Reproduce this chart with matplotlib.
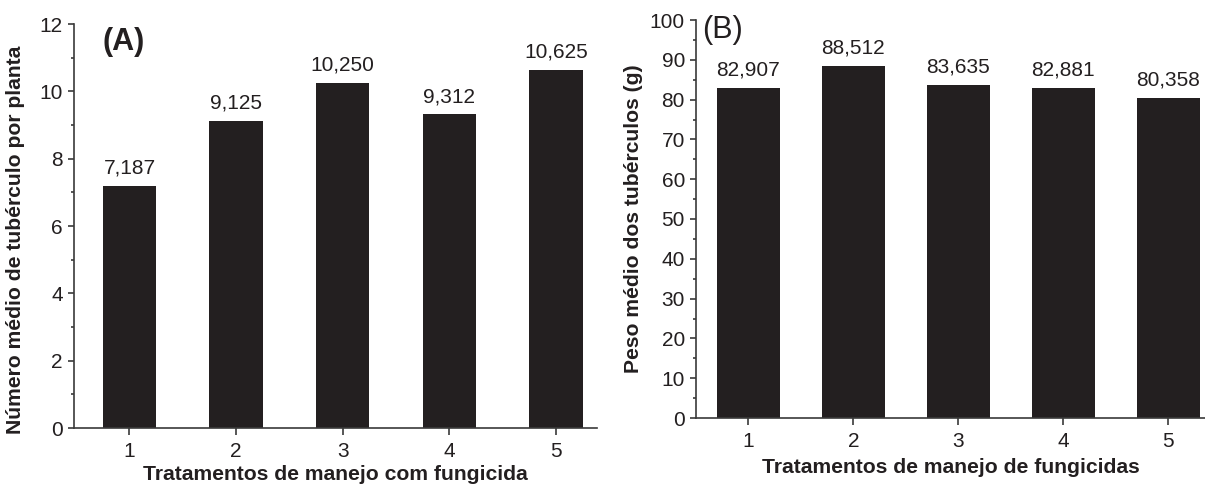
import matplotlib
matplotlib.use("Agg")
from matplotlib import pyplot as plt
from matplotlib.ticker import MultipleLocator

plt.rcParams['font.family'] = ['Liberation Sans', 'DejaVu Sans']

# dados
tratamentos = [1, 2, 3, 4, 5]
num_tuberculos = [7.187, 9.125, 10.250, 9.312, 10.625]
peso_medio = [82.907, 88.512, 83.635, 82.881, 80.358]

bar_color = '#231f20'
axis_color = '#3a3a3a'
text_color = '#231f20'


def fmt(v):
    return f"{v:.3f}".replace('.', ',')


def style_axes(ax):
    for s in ['top', 'right']:
        ax.spines[s].set_visible(False)
    for s in ['left', 'bottom']:
        ax.spines[s].set_color(axis_color)
        ax.spines[s].set_linewidth(1.2)
    ax.tick_params(axis='y', which='major', direction='out', length=4, width=1.2,
                   color=axis_color, labelsize=15, labelcolor=text_color, pad=4)
    ax.tick_params(axis='x', which='major', direction='out', length=5, width=1.2,
                   color=axis_color, labelsize=15, labelcolor=text_color, pad=5)
    ax.tick_params(axis='y', which='minor', direction='out', length=2.5, width=1.2, color=axis_color)
    ax.tick_params(axis='x', which='minor', length=0)


fig = plt.figure(figsize=(12.05, 4.84), dpi=100)

# painel A
ax1 = fig.add_axes([74 / 1205, 1 - 428 / 484, (597 - 74) / 1205, (428 - 24) / 484])
ax1.bar(tratamentos, num_tuberculos, width=0.5, color=bar_color)
ax1.set_xlim(0.48, 5.385)
ax1.set_ylim(0, 12)
ax1.yaxis.set_major_locator(MultipleLocator(2))
ax1.yaxis.set_minor_locator(MultipleLocator(1))
ax1.set_xticks(tratamentos)
style_axes(ax1)
for x, v in zip(tratamentos, num_tuberculos):
    ax1.annotate(fmt(v), (x, v), xytext=(0, 6), textcoords='offset points',
                 ha='center', va='bottom', fontsize=15, color=text_color)
ax1.set_xlabel('Tratamentos de manejo com fungicida', fontsize=15.2, fontweight='bold',
               color=text_color, labelpad=3)
ax1.set_ylabel('Número médio de tubérculo por planta', fontsize=15.2, fontweight='bold',
               color=text_color)
ax1.yaxis.set_label_coords(-0.094, 0.465)
ax1.text(0.055, 0.955, '(A)', transform=ax1.transAxes, fontsize=22, fontweight='bold',
         color=text_color, ha='left', va='center')

# painel B
ax2 = fig.add_axes([696 / 1205, 1 - 418 / 484, (1205 - 696) / 1205, (418 - 20) / 484])
ax2.bar(tratamentos, peso_medio, width=0.6, color=bar_color)
ax2.set_xlim(0.5, 5.35)
ax2.set_ylim(0, 100)
ax2.yaxis.set_major_locator(MultipleLocator(10))
ax2.yaxis.set_minor_locator(MultipleLocator(5))
ax2.set_xticks(tratamentos)
style_axes(ax2)
for x, v in zip(tratamentos, peso_medio):
    ax2.annotate(fmt(v), (x, v), xytext=(0, 6), textcoords='offset points',
                 ha='center', va='bottom', fontsize=15, color=text_color)
ax2.set_xlabel('Tratamentos de manejo de fungicidas', fontsize=15.2, fontweight='bold',
               color=text_color, labelpad=5)
ax2.set_ylabel('Peso médio dos tubérculos (g)', fontsize=15.2, fontweight='bold',
               color=text_color, labelpad=5)
ax2.text(0.012, 0.975, '(B)', transform=ax2.transAxes, fontsize=22,
         color=text_color, ha='left', va='center')

fig.savefig('out.png', dpi=100)
